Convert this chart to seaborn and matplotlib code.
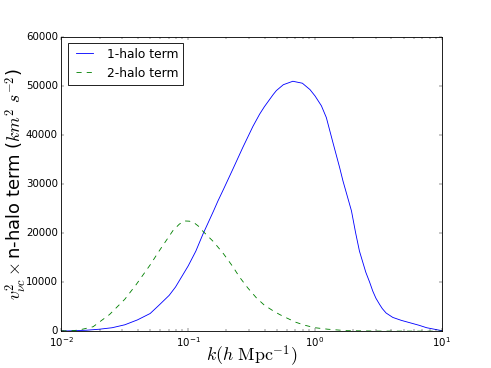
import numpy as np
import pandas as pd
import matplotlib
matplotlib.use('Agg')
import matplotlib.pyplot as plt
import seaborn as sns

# values (log10 k, velocity-weighted power)
logk_1h = [-2.0, -1.9, -1.8, -1.7, -1.6, -1.5, -1.4, -1.3, -1.23, -1.15,
           -1.1, -1.0, -0.94, -0.885, -0.8, -0.766, -0.72, -0.648, -0.57,
           -0.49, -0.437, -0.4, -0.33, -0.305, -0.25, -0.175, -0.1, -0.04,
           0.0, 0.05, 0.089, 0.14, 0.194, 0.22, 0.287, 0.32, 0.35, 0.4,
           0.43, 0.455, 0.48, 0.51, 0.53, 0.56, 0.613, 0.68, 0.75, 0.82,
           0.88, 0.94, 1.0]
term_1h = [30, 90, 200, 400, 700, 1300, 2300, 3600, 5300, 7300,
           9000, 13300, 16300, 19700, 24500, 26500, 29000, 33000, 37400,
           41700, 44200, 45700, 48200, 49000, 50200, 50900, 50500, 49200,
           47900, 45900, 43500, 38500, 33300, 30600, 24500, 20000, 16300, 12000,
           10000, 8160, 6700, 5400, 4600, 3700, 2800, 2200, 1700, 1200,
           700, 400, 100]

logk_2h = [-2.0, -1.9, -1.85, -1.75, -1.62, -1.5, -1.41, -1.3, -1.23, -1.12,
           -1.07, -1.03, -0.99, -0.95, -0.92, -0.886, -0.8, -0.72, -0.65,
           -0.595, -0.53, -0.463, -0.4, -0.34, -0.28, -0.2, -0.15,
           -0.08, 0.0, 0.1, 0.25, 0.5, 1.0]
term_2h = [50, 120, 300, 900, 3400, 6500, 9500, 13500, 16300, 20500,
           21800, 22450, 22400, 22000, 21400, 20400, 18200, 15700, 13200,
           11000, 8800, 6800, 5300, 4300, 3400, 2400, 1800,
           1200, 700, 400, 100, 20, 0]

plt.style.use('classic')

df1 = pd.DataFrame({'k': 10 ** np.array(logk_1h), 'p': term_1h})
df2 = pd.DataFrame({'k': 10 ** np.array(logk_2h), 'p': term_2h})

fig, ax = plt.subplots(figsize=(8, 6), dpi=61.375)
sns.lineplot(data=df1, x='k', y='p', color='b', label='1-halo term', ax=ax)
sns.lineplot(data=df2, x='k', y='p', color='g', linestyle='--', label='2-halo term', ax=ax)

ax.set_xscale('log')
ax.set_xlim(1e-2, 1e1)
ax.set_ylim(0, 60000)
ax.set_xlabel(r'$k(h\ \mathrm{Mpc}^{-1})$', fontsize=21, labelpad=-5)
ax.set_ylabel(r'$v_{\nu c}^2\times$n-halo term ($km^2\ s^{-2}$)', fontsize=21, labelpad=-3)
ax.legend(loc='upper left')

plt.savefig('out.png', dpi=61.375)
